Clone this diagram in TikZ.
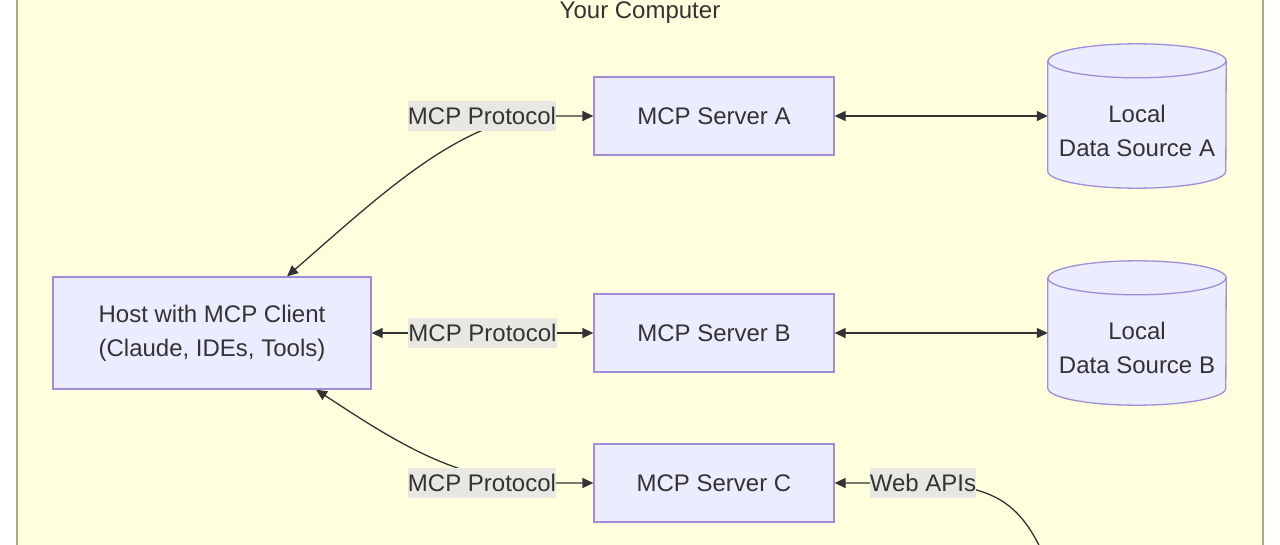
\documentclass[tikz,border=0pt]{standalone}
\usepackage{fontspec}
\setmainfont{Liberation Sans}
\usetikzlibrary{arrows.meta,calc}
\definecolor{frameFill}{HTML}{FFFFDE}
\definecolor{frameLine}{HTML}{AAAA77}
\definecolor{boxFill}{HTML}{ECECFF}
\definecolor{boxLine}{HTML}{9F8DD8}
\definecolor{txt}{HTML}{333333}
\definecolor{lblFill}{HTML}{E8E8E2}
\pgfdeclarelayer{bg}
\pgfdeclarelayer{edges}
\pgfsetlayers{bg,edges,main}
\tikzset{
  basefont/.style={font=\fontsize{24}{34}\selectfont, text=txt},
  box/.style={basefont, draw=boxLine, fill=boxFill, line width=1.3pt, align=center, inner sep=0pt},
  srv/.style={box, minimum width=240pt, minimum height=78pt},
  dsnode/.style={minimum width=178pt, minimum height=144pt, inner sep=0pt},
  dstext/.style={basefont, align=center},
  elabel/.style={basefont, fill=lblFill, inner xsep=0pt, inner ysep=6pt},
  conn/.style={draw=txt, line width=1.3pt, arrows={-}, >={Triangle[length=11pt,width=10pt]}},
  cylfill/.style={fill=boxFill, draw=boxLine, line width=1.3pt},
}
\newcommand\drawcyl[1]{%
  \path[cylfill] ($(#1.north west)+(0,17)$) -- ($(#1.south west)+(0,-17)$)
    arc[start angle=180, end angle=360, x radius=89pt, y radius=17pt]
    -- ($(#1.north east)+(0,17)$)
    arc[start angle=0, end angle=180, x radius=89pt, y radius=17pt] -- cycle;
  \draw[boxLine, line width=1.3pt] ($(#1.north west)+(0,17)$)
    arc[start angle=180, end angle=360, x radius=89pt, y radius=17pt];
}
\begin{document}
\begin{tikzpicture}[x=1pt, y=-1pt]
\useasboundingbox (0,0) rectangle (1280,544);
\clip (0,0) rectangle (1280,544);
\begin{pgfonlayer}{bg}
  \fill[white] (0,0) rectangle (1280,544);
  \draw[fill=frameFill, draw=frameLine, line width=1.3pt] (17,-20) rectangle (1263,580);
\end{pgfonlayer}

\node[basefont] (ttl) at (640,13) {Your Computer};

\node[box, minimum width=318pt, minimum height=112pt] (host) at (212,333)
  {Host with MCP Client\\(Claude, IDEs, Tools)};

\node[srv] (srvA) at (714,116) {MCP Server A};
\node[srv] (srvB) at (714,333) {MCP Server B};
\node[srv] (srvC) at (714,483) {MCP Server C};

\node[dsnode] (dsA) at (1137,116) {};
\node[dsnode] (dsB) at (1137,333) {};
\drawcyl{dsA}
\drawcyl{dsB}
\node[dstext] (dsAt) at ($(dsA.center)+(0,15)$) {Local\\Data Source A};
\node[dstext] (dsBt) at ($(dsB.center)+(0,15)$) {Local\\Data Source B};

\node[elabel] (lblA) at (482,116) {MCP Protocol};
\node[elabel] (lblB) at (482.5,333) {MCP Protocol};
\node[elabel] (lblC) at (482,483) {MCP Protocol};
\node[elabel] (lblW) at (923,483) {Web APIs};

\coordinate (webEnd) at (1052,575);

\begin{pgfonlayer}{edges}
  \draw[conn, <->] ([xshift=75pt]host.north) .. controls (375,200) and (450,128) .. ([xshift=-25pt]lblA.east) -- (srvA.west);
  \draw[conn, <->] (host.east) -- (srvB.west);
  \draw[conn, <->] ([xshift=104pt]host.south) .. controls (390,438) and (450,478) .. ([xshift=-25pt]lblC.east) -- (srvC.west);
  \draw[conn, <->] (srvA.east) -- (dsA.west);
  \draw[conn, <->] (srvB.east) -- (dsB.west);
  \draw[conn, ->] (webEnd) .. controls (1025,505) and (1000,486) .. (lblW.center) -- (srvC.east);
\end{pgfonlayer}
\end{tikzpicture}
\end{document}
